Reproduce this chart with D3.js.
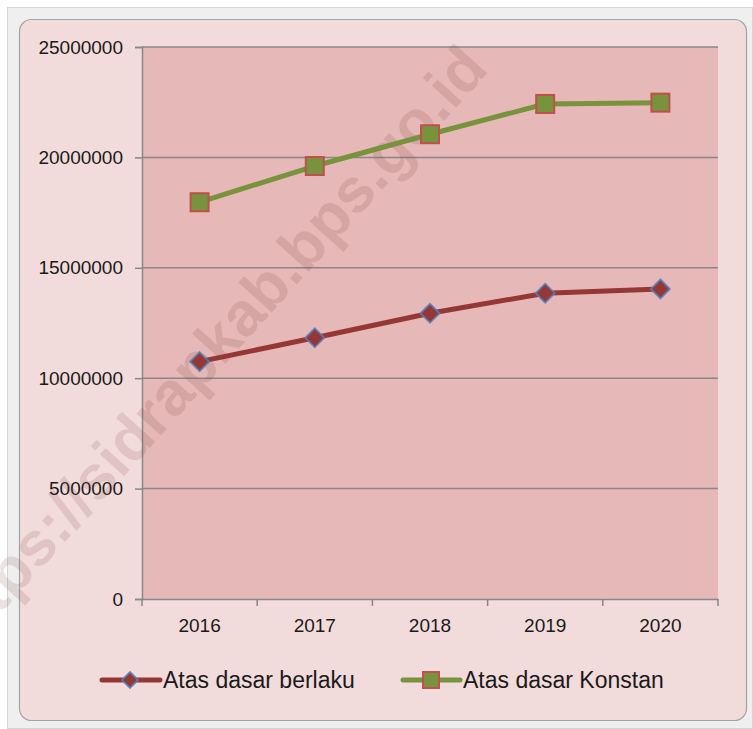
<!DOCTYPE html>
<html>
<head>
<meta charset="utf-8">
<script src="https://cdn.jsdelivr.net/npm/d3@7"></script>
<style>
  html, body { margin: 0; padding: 0; background: #ffffff; }
  svg { display: block; }
</style>
</head>
<body>
<svg id="chart" width="753" height="729"></svg>
<script>
// ---- data ----
const years = ["2016", "2017", "2018", "2019", "2020"];
const berlaku = [10750000, 11830000, 12940000, 13850000, 14040000];
const konstan = [17970000, 19610000, 21050000, 22420000, 22480000];
const yTicks = [0, 5000000, 10000000, 15000000, 20000000, 25000000];
const seriesNames = ["Atas dasar berlaku", "Atas dasar Konstan"];
const watermark = "https://sidrapkab.bps.go.id";

const svg = d3.select("#chart");
const font = "'Liberation Sans', Arial, sans-serif";

// frame
svg.append("rect").attr("x", 7.5).attr("y", 7.5).attr("width", 745).attr("height", 721)
  .attr("fill", "#efefef").attr("stroke", "#d6d6d6");
svg.append("rect").attr("x", 19.5).attr("y", 19.5).attr("width", 727).attr("height", 701)
  .attr("rx", 12).attr("fill", "#f2dcdb").attr("stroke", "#a3a3a3").attr("stroke-width", 1.2);

const plot = { left: 142, right: 718, top: 47, bottom: 599 };
const x = d3.scaleBand().domain(years).range([plot.left, plot.right]).padding(0);
const y = d3.scaleLinear().domain([0, 25000000]).range([plot.bottom, plot.top]);

// plot background
svg.append("rect").attr("x", plot.left).attr("y", plot.top)
  .attr("width", plot.right - plot.left).attr("height", plot.bottom - plot.top)
  .attr("fill", "#e6b8b7");

// gridlines
svg.append("g").selectAll("line").data(yTicks.filter(d => d > 0)).join("line")
  .attr("x1", plot.left).attr("x2", plot.right)
  .attr("y1", d => y(d)).attr("y2", d => y(d))
  .attr("stroke", "#878787").attr("stroke-width", 1.5);

// y axis
const yAxis = svg.append("g").attr("transform", `translate(${plot.left},0)`)
  .call(d3.axisLeft(y).tickValues(yTicks).tickSize(7).tickPadding(12).tickFormat(d3.format("d")));
yAxis.select(".domain").attr("stroke", "#878787").attr("stroke-width", 1.5);
yAxis.selectAll(".tick line").attr("stroke", "#878787").attr("stroke-width", 1.5);
yAxis.selectAll("text").attr("font-family", font).attr("font-size", 19).attr("fill", "#1a1a1a");

// x axis
const xAxis = svg.append("g").attr("transform", `translate(0,${plot.bottom})`)
  .call(d3.axisBottom(x).tickSize(0).tickPadding(20));
xAxis.select(".domain").attr("stroke", "#878787").attr("stroke-width", 1.5);
xAxis.selectAll("text").attr("font-family", font).attr("font-size", 19).attr("fill", "#1a1a1a");
// boundary ticks
const bounds = years.map(d => x(d)).concat([x(years[years.length - 1]) + x.bandwidth()]);
xAxis.append("g").selectAll("line").data(bounds).join("line")
  .attr("x1", d => d).attr("x2", d => d).attr("y1", 0).attr("y2", 7)
  .attr("stroke", "#878787").attr("stroke-width", 1.5);

// watermark
svg.append("text")
  .attr("transform", "translate(490,70) rotate(-48)")
  .attr("text-anchor", "end")
  .attr("font-family", font).attr("font-weight", "bold").attr("font-size", 62)
  .attr("fill", "rgb(120,60,60)").attr("fill-opacity", 0.15)
  .text(watermark);

const cx = d => x(d) + x.bandwidth() / 2;
const line = d3.line().x(d => cx(d.year)).y(d => y(d.v));
const redData = years.map((yr, i) => ({ year: yr, v: berlaku[i] }));
const greenData = years.map((yr, i) => ({ year: yr, v: konstan[i] }));

const redLine = "#953735", greenLine = "#77933c";

svg.append("path").datum(greenData).attr("d", line)
  .attr("fill", "none").attr("stroke", greenLine).attr("stroke-width", 5).attr("stroke-linejoin", "round");
svg.append("path").datum(redData).attr("d", line)
  .attr("fill", "none").attr("stroke", redLine).attr("stroke-width", 5).attr("stroke-linejoin", "round");

function square(g, px, py, s) {
  g.append("rect").attr("x", px - s / 2).attr("y", py - s / 2).attr("width", s).attr("height", s)
    .attr("fill", "#77933c").attr("stroke", "#c0504d").attr("stroke-width", 2);
}
function diamond(g, px, py, r) {
  g.append("path").attr("d", `M${px},${py - r}L${px + r},${py}L${px},${py + r}L${px - r},${py}Z`)
    .attr("fill", "#953735").attr("stroke", "#4f81bd").attr("stroke-width", 1.8).attr("stroke-opacity", 0.85);
}

const marks = svg.append("g");
greenData.forEach(d => square(marks, cx(d.year), y(d.v), 18));
redData.forEach(d => diamond(marks, cx(d.year), y(d.v), 9.5));

// legend
const leg = svg.append("g");
const ly = 680;
leg.append("line").attr("x1", 102).attr("x2", 160).attr("y1", ly).attr("y2", ly)
  .attr("stroke", redLine).attr("stroke-width", 5).attr("stroke-linecap", "round");
diamond(leg, 130, ly, 8);
leg.append("text").attr("x", 163).attr("y", ly).attr("dy", "0.35em")
  .attr("font-family", font).attr("font-size", 23).attr("fill", "#1a1a1a").text(seriesNames[0]);
leg.append("line").attr("x1", 403).attr("x2", 460).attr("y1", ly).attr("y2", ly)
  .attr("stroke", greenLine).attr("stroke-width", 5).attr("stroke-linecap", "round");
square(leg, 431, ly, 16);
leg.append("text").attr("x", 463).attr("y", ly).attr("dy", "0.35em")
  .attr("font-family", font).attr("font-size", 23).attr("fill", "#1a1a1a").text(seriesNames[1]);
</script>
</body>
</html>
